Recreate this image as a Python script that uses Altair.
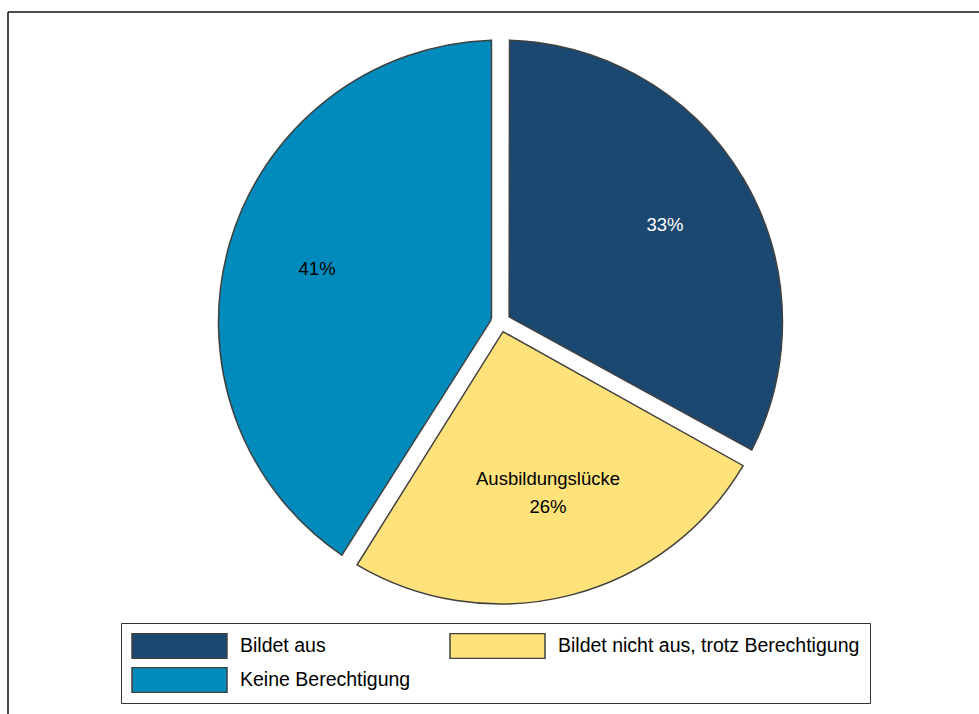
import altair as alt
import pandas as pd

# ---- data ----
categories = ["Bildet aus", "Bildet nicht aus, trotz Berechtigung", "Keine Berechtigung"]
shares = [33, 26, 41]
pct_labels = ["33%", "26%", "41%"]
inner_names = ["", "Ausbildungslücke", ""]
slice_order = [0, 1, 2]
colors = ["#1B4870", "#FFE27A", "#008BBC"]

df = pd.DataFrame({
    "cat": categories,
    "share": shares,
    "pct": pct_labels,
    "name": inner_names,
    "ord": slice_order,
})

W, H = 971, 702
CX, CY = 492.5, 310
FONT = "Liberation Sans"

base = alt.Chart(df).encode(
    theta=alt.Theta("share:Q", stack=True),
    order=alt.Order("ord:Q"),
    detail="cat:N",
)

arcs = base.mark_arc(
    outerRadius=282, innerRadius=10, padAngle=0.064,
    stroke="#404040", strokeWidth=1.5,
).encode(
    x=alt.value(CX), y=alt.value(CY),
    color=alt.Color(
        "cat:N",
        scale=alt.Scale(domain=categories, range=colors),
        legend=alt.Legend(
            title=None, orient="none", legendX=113, legendY=611,
            direction="horizontal", columns=2, gridAlign="each",
            symbolType="M-1,-0.263L1,-0.263L1,0.263L-1,0.263Z",
            symbolSize=9025, symbolStrokeColor="#404040", symbolStrokeWidth=1.5,
            symbolOpacity=1, clipHeight=26,
            labelFont=FONT, labelFontSize=19.5, labelColor="black",
            labelOffset=12, labelLimit=500,
            columnPadding=38, rowPadding=8, padding=10,
            strokeColor="#333333", fillColor="white",
        ),
    ),
)

pct_text = base.mark_text(radius=191, font=FONT, fontSize=18.5).encode(
    x=alt.value(CX), y=alt.value(CY),
    text="pct:N",
    color=alt.condition(alt.datum.cat == "Bildet aus", alt.value("white"), alt.value("black")),
)

name_text = base.mark_text(radius=191, dy=-28, font=FONT, fontSize=18.5, color="black").encode(
    x=alt.value(CX), y=alt.value(CY),
    text="name:N",
)

frame_df = pd.DataFrame({"k": [0]})
top_line = alt.Chart(frame_df).mark_rule(color="#111111", strokeWidth=1.5).encode(
    x=alt.value(0), x2=alt.value(W), y=alt.value(0)
)
left_line = alt.Chart(frame_df).mark_rule(color="#111111", strokeWidth=1.5).encode(
    x=alt.value(0), y=alt.value(0), y2=alt.value(H)
)

chart = alt.layer(top_line, left_line, arcs, pct_text, name_text).properties(
    width=W, height=H,
    autosize=alt.AutoSizeParams(type="none"),
    padding={"left": 8, "top": 12, "right": 0, "bottom": 0},
).configure_view(strokeWidth=0)

chart.save("out.html", embed_options={"renderer": "svg", "actions": False})
